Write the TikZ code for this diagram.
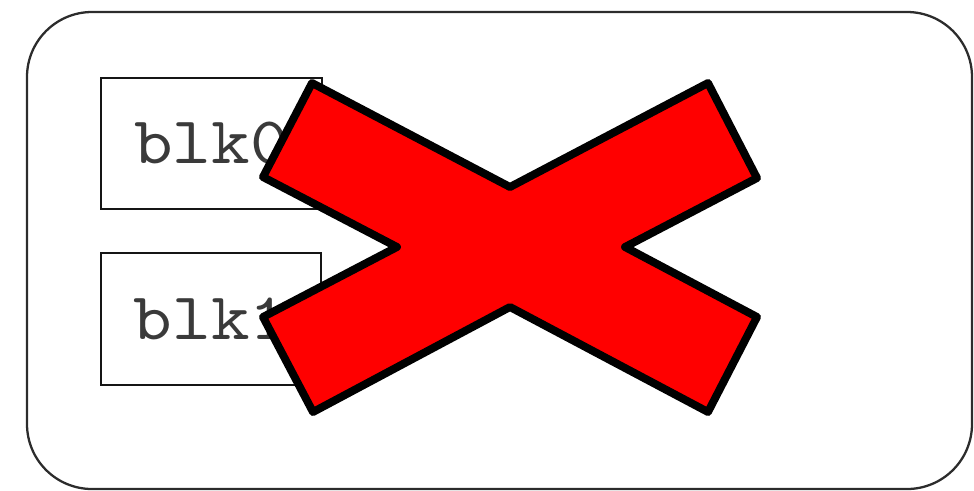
\documentclass[tikz,border=0pt]{standalone}
\usepackage{fontspec}
\usepackage{tikz}
\usetikzlibrary{positioning}
\definecolor{Ink}{HTML}{151515}
\definecolor{BlkText}{HTML}{3A3A3A}
\definecolor{CrossRed}{HTML}{FF0000}
\newfontfamily\blkfont{lmmono10-regular.otf}[FakeStretch=1.1]

\begin{document}
\begin{tikzpicture}[x=1cm,y=1cm,every node/.style={font=\blkfont}]
    \useasboundingbox (0,0) rectangle (19.48,-9.80);

    \draw[Ink!90,line width=1.3pt,rounded corners=1.3cm]
      (0.54,-0.24) rectangle (19.44,-9.78);

    \node[draw=Ink,line width=1.4pt,minimum width=4.42cm,minimum height=2.62cm,
          inner sep=0pt,font=\fontsize{38}{42}\selectfont\blkfont,text=BlkText] (blk0) at (4.23,-2.87)
      {blk0\hspace{0.25cm}};
    \node[draw=Ink,line width=1.4pt,minimum width=4.40cm,minimum height=2.64cm,
          inner sep=0pt,font=\fontsize{38}{42}\selectfont\blkfont,text=BlkText] (blk1) at (4.22,-6.38)
      {blk1\hspace{0.25cm}};

    \draw[black,fill=CrossRed,line width=4.5pt,line join=round]
      (6.24,-1.66) -- (10.20,-3.74) -- (14.16,-1.66) -- (15.14,-3.56)
      -- (12.50,-4.94) -- (15.14,-6.34) -- (14.16,-8.24) -- (10.20,-6.14)
      -- (6.26,-8.24) -- (5.26,-6.34) -- (7.94,-4.94) -- (5.26,-3.54) -- cycle;
  \end{tikzpicture}
\end{document}
